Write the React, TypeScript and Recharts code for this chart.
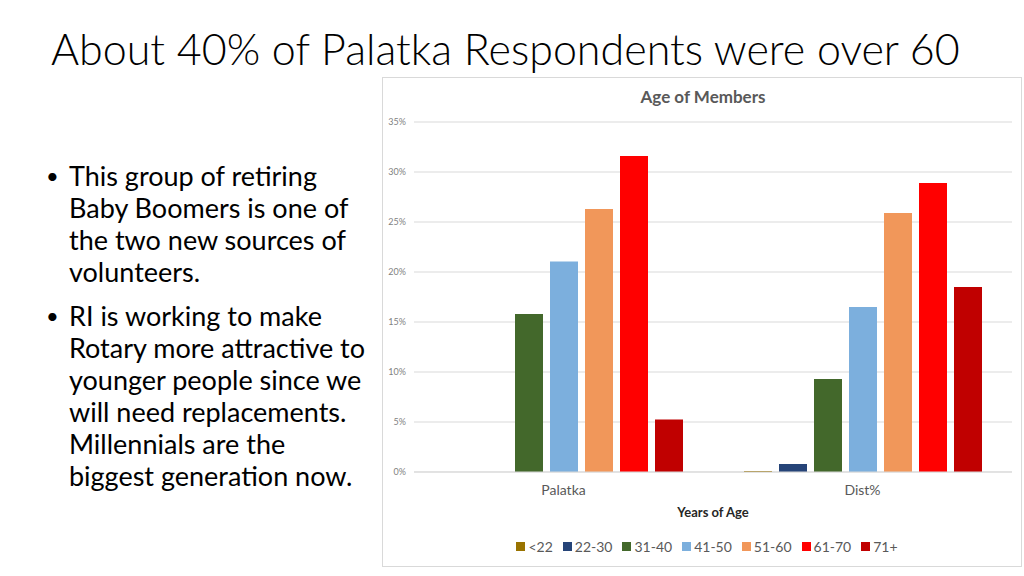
import { BarChart, Bar, XAxis, YAxis, CartesianGrid } from 'recharts';

const categories = ['Palatka', 'Dist%'];
const ageGroups = ['<22', '22-30', '31-40', '41-50', '51-60', '61-70', '71+'];
const palatkaShare = [0, 0, 15.8, 21.05, 26.3, 31.6, 5.25];
const districtShare = [0.1, 0.8, 9.3, 16.5, 25.9, 28.9, 18.5];
const groupColors = ['#997300', '#264478', '#43682b', '#7cafdd', '#f1975a', '#ff0000', '#c00000'];
const yTicks = [0, 5, 10, 15, 20, 25, 30, 35];

const slideTitle = 'About 40% of Palatka Respondents were over 60';
const bullets = [
  ['This group of retiring', 'Baby Boomers is one of', 'the two new sources of', 'volunteers.'],
  [
    'RI is working to make',
    'Rotary more attractive to',
    'younger people since we',
    'will need replacements.',
    'Millennials are the',
    'biggest generation now.',
  ],
];

const seriesByCategory = [palatkaShare, districtShare];
const chartData = categories.map((name, i) => {
  const row: Record<string, string | number> = { name };
  ageGroups.forEach((g, j) => {
    row[g] = seriesByCategory[i][j];
  });
  return row;
});

const font = 'Lato, "Open Sans", sans-serif';

export default function App() {
  return (
    <div style={{ position: 'absolute', left: 0, top: 0, width: 1024, height: 576, background: '#fff', fontFamily: font, overflow: 'hidden' }}>
      <div style={{ position: 'absolute', left: 51, top: 25, fontSize: 43, fontWeight: 300, color: '#000', whiteSpace: 'nowrap', lineHeight: 1.1 }}>
        {slideTitle}
      </div>

      <div style={{ position: 'absolute', left: 46, top: 160, fontSize: 27, color: '#000', lineHeight: '32px' }}>
        {bullets.map((lines, i) => (
          <div key={i} style={{ position: 'relative', paddingLeft: 23, marginBottom: 12, whiteSpace: 'nowrap' }}>
            <span style={{ position: 'absolute', left: 0, top: 0, fontSize: 22 }}>•</span>
            {lines.map((l) => (
              <div key={l}>{l}</div>
            ))}
          </div>
        ))}
      </div>

      <div style={{ position: 'absolute', left: 382, top: 77, width: 640, height: 490, border: '1px solid #d9d9d9', boxSizing: 'border-box' }} />

      <div style={{ position: 'absolute', left: 382, top: 86, width: 642, textAlign: 'center', fontSize: 17, fontWeight: 700, color: '#595959' }}>
        Age of Members
      </div>

      <div style={{ position: 'absolute', left: 382, top: 77 }}>
        <BarChart
          width={640}
          height={490}
          data={chartData}
          margin={{ top: 45, right: 10, bottom: 65, left: 0 }}
          barSize={28}
          barGap={7}
        >
          <CartesianGrid vertical={false} stroke="#d9d9d9" />
          <XAxis
            dataKey="name"
            height={30}
            axisLine={{ stroke: '#d9d9d9' }}
            tickLine={false}
            tickMargin={7}
            tick={{ fontSize: 14, fill: '#595959', fontFamily: font }}
          />
          <YAxis
            width={32}
            domain={[0, 35]}
            ticks={yTicks}
            axisLine={false}
            tickLine={false}
            tickFormatter={(v: number) => `${v}%`}
            tick={{ fontSize: 9, fill: '#7f7f7f', fontFamily: font }}
          />
          {ageGroups.map((g, i) => (
            <Bar key={g} dataKey={g} fill={groupColors[i]} isAnimationActive={false} />
          ))}
        </BarChart>
      </div>

      <div style={{ position: 'absolute', left: 382, top: 504, width: 662, textAlign: 'center', fontSize: 13, fontWeight: 700, color: '#262626' }}>
        Years of Age
      </div>

      <div style={{ position: 'absolute', left: 382, top: 538, width: 650, display: 'flex', justifyContent: 'center', gap: 10, fontSize: 14, color: '#595959' }}>
        {ageGroups.map((g, i) => (
          <div key={g} style={{ display: 'flex', alignItems: 'center', gap: 3 }}>
            <span style={{ display: 'inline-block', width: 9, height: 9, background: groupColors[i] }} />
            <span>{g}</span>
          </div>
        ))}
      </div>
    </div>
  );
}
